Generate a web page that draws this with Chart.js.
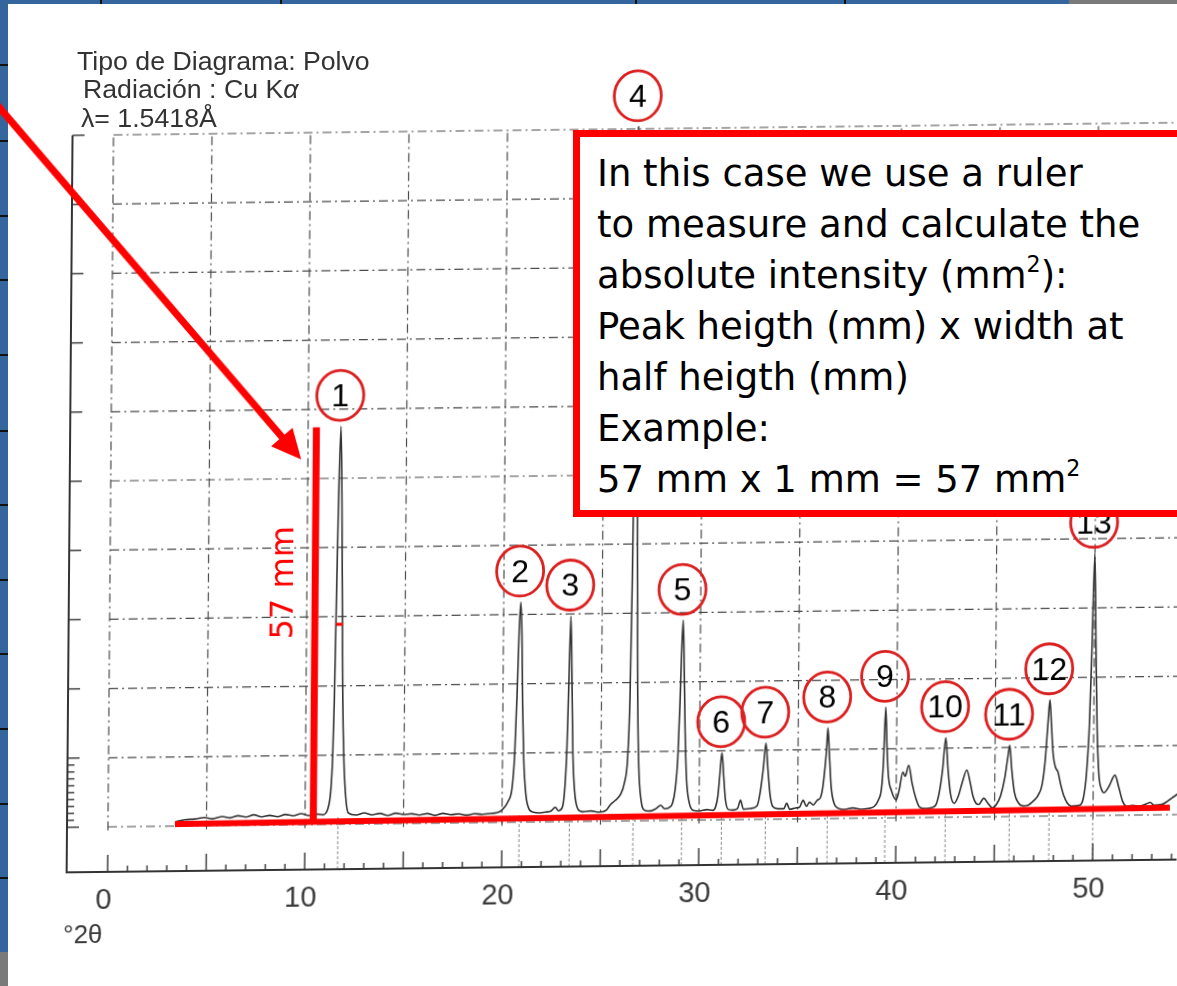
<!DOCTYPE html>
<html>
<head>
<meta charset="utf-8">
<title>Difractograma de polvo</title>
<script src="https://cdn.jsdelivr.net/npm/chart.js@4.4.0/dist/chart.umd.min.js"></script>
<style>
  html, body { margin: 0; padding: 0; }
  body { width: 1177px; height: 986px; overflow: hidden; background: #fff; position: relative;
         font-family: "Liberation Sans", Arial, sans-serif; }
  .slide { position: absolute; background: #34659c; }
  .cut { position: absolute; background: #111; }
  .grey { position: absolute; background: #7a7a7a; }
  #plot { position: absolute; left: -20px; top: -20px;
          transform-origin: 120px 847px; transform: matrix(1, -0.0115, -0.008, 1, 0, 0); }
  .head { position: absolute; font-size: 26.7px; line-height: 27px;
          color: #333; white-space: nowrap; }
  #note { position: absolute; left: 573px; top: 130px; width: 700px; height: 387px; box-sizing: border-box;
          border: 7px solid #ff0000; background: #fff; padding: 11px 0 0 17px;
          font-family: "DejaVu Sans", sans-serif; font-size: 37px; line-height: 51px; color: #000; white-space: nowrap; }
  #note sup { font-size: 0.6em; line-height: 0; vertical-align: 0.7em; }
</style>
</head>
<body>
<div class="slide" style="left:0;top:0;width:1177px;height:4px"></div>
<div class="slide" style="left:0;top:0;width:8px;height:986px"></div>
<div class="cut" style="left:100px;top:0;width:2px;height:4px"></div>
<div class="cut" style="left:280px;top:0;width:2px;height:4px"></div>
<div class="cut" style="left:635px;top:0;width:2px;height:4px"></div>
<div class="cut" style="left:844px;top:0;width:2px;height:4px"></div>
<div class="grey" style="left:1069px;top:0;width:108px;height:4px"></div>
<div class="cut" style="left:0;top:64px;width:8px;height:2px"></div>
<div class="cut" style="left:0;top:140px;width:8px;height:2px"></div>
<div class="cut" style="left:0;top:215px;width:8px;height:2px"></div>
<div class="cut" style="left:0;top:279px;width:8px;height:2px"></div>
<div class="cut" style="left:0;top:354px;width:8px;height:2px"></div>
<div class="cut" style="left:0;top:430px;width:8px;height:2px"></div>
<div class="cut" style="left:0;top:504px;width:8px;height:2px"></div>
<div class="cut" style="left:0;top:579px;width:8px;height:2px"></div>
<div class="cut" style="left:0;top:653px;width:8px;height:2px"></div>
<div class="cut" style="left:0;top:728px;width:8px;height:2px"></div>
<div class="cut" style="left:0;top:803px;width:8px;height:2px"></div>
<div class="cut" style="left:0;top:877px;width:8px;height:2px"></div>
<div class="grey" style="left:0;top:952px;width:8px;height:34px"></div>

<canvas id="plot" width="1240" height="1030"></canvas>

<div class="head" style="left:77px;top:48px">Tipo de Diagrama: Polvo</div>
<div class="head" style="left:83px;top:76px">Radiación : Cu K<i>α</i></div>
<div class="head" style="left:81px;top:105px">λ= 1.5418Å</div>

<div id="note">In this case we use a ruler<br>to measure and calculate the<br>absolute intensity (mm<sup>2</sup>):<br>Peak heigth (mm) x width at<br>half heigth (mm)<br>Example:<br>57 mm x 1 mm = 57 mm<sup>2</sup></div>

<script>
// recorded scan: [2θ in degrees, intensity in chart divisions] (1 division = 10 mm of paper)
const scan = [
  [3.4,0.06],[3.9,0.09],[4.4,0.10],[4.9,0.12],[5.3,0.10],[5.8,0.13],[6.2,0.11],[6.6,0.14],[7.0,0.12],[7.4,0.15],
  [7.8,0.12],[8.2,0.14],[8.6,0.12],[9.0,0.15],[9.4,0.13],[9.8,0.16],[10.2,0.13],[10.6,0.15],[10.9,0.14],
  [11.15,0.22],[11.3,0.5],[11.38,1.0],[11.44,1.8],[11.49,2.9],[11.57,4.6],[11.67,5.75],[11.75,4.6],[11.82,2.9],
  [11.87,1.8],[11.94,1.0],[12.04,0.45],[12.2,0.16],
  [12.6,0.13],[13.0,0.16],[13.4,0.13],[13.8,0.15],[14.2,0.12],[14.6,0.15],[15.0,0.13],[15.4,0.14],[15.8,0.12],
  [16.2,0.14],[16.6,0.11],[17.0,0.14],[17.4,0.12],[17.8,0.13],[18.2,0.11],[18.6,0.13],[19.0,0.12],[19.4,0.13],[19.75,0.14],
  [20.0,0.18],[20.3,0.3],[20.5,0.5],[20.62,1.0],[20.72,1.9],[20.8,2.8],[20.87,3.18],[20.94,2.7],[21.0,1.7],
  [21.08,0.9],[21.2,0.4],[21.35,0.2],[21.6,0.14],
  [21.9,0.13],[22.2,0.14],[22.5,0.16],[22.7,0.21],[22.85,0.16],
  [23.05,0.2],[23.18,0.5],[23.27,1.1],[23.34,2.0],[23.42,2.97],[23.5,2.0],[23.57,1.0],[23.67,0.45],[23.85,0.18],[24.1,0.14],
  [24.5,0.15],[24.9,0.13],[25.3,0.16],[25.5,0.24],[25.75,0.3],[26.0,0.38],[26.2,0.55],[26.35,0.9],[26.45,1.8],
  [26.52,3.5],[26.58,6.0],[26.65,10.03],[26.72,6.0],[26.78,3.5],[26.84,1.8],[26.92,0.8],[27.05,0.3],[27.25,0.15],
  [27.5,0.14],[27.8,0.17],[28.05,0.22],[28.25,0.17],[28.5,0.19],
  [28.65,0.25],[28.78,0.45],[28.9,0.9],[28.99,1.7],[29.05,2.4],[29.12,2.89],[29.19,2.2],[29.26,1.3],[29.35,0.6],
  [29.5,0.25],[29.7,0.14],
  [30.0,0.13],[30.4,0.15],[30.7,0.14],
  [30.85,0.2],[30.95,0.35],[31.04,0.65],[31.14,0.97],[31.24,0.62],[31.33,0.3],[31.48,0.15],[31.7,0.14],
  [31.95,0.16],[32.1,0.28],[32.25,0.15],[32.6,0.16],
  [32.95,0.2],[33.1,0.4],[33.25,0.75],[33.37,1.10],[33.48,0.72],[33.6,0.35],[33.75,0.18],[34.0,0.15],
  [34.3,0.15],[34.45,0.23],[34.6,0.14],[34.9,0.16],
  [35.1,0.17],[35.28,0.27],[35.45,0.18],[35.6,0.24],[35.8,0.2],[36.0,0.27],[36.15,0.3],[36.27,0.45],[36.38,0.75],
  [36.45,1.0],[36.51,1.31],[36.6,0.9],[36.7,0.45],[36.85,0.22],[37.05,0.15],[37.4,0.13],[37.8,0.15],[38.2,0.13],[38.6,0.14],
  [38.9,0.17],[39.1,0.26],[39.25,0.42],[39.34,0.8],[39.44,1.60],[39.52,1.0],[39.6,0.6],[39.75,0.4],[40.0,0.26],
  [40.15,0.4],[40.33,0.66],[40.45,0.6],[40.63,0.76],[40.8,0.5],[41.0,0.28],[41.2,0.15],[41.5,0.13],[41.8,0.14],
  [42.05,0.2],[42.2,0.38],[42.35,0.7],[42.5,1.15],[42.62,0.7],[42.75,0.35],[42.95,0.2],[43.15,0.3],[43.35,0.5],
  [43.58,0.68],[43.75,0.5],[43.9,0.3],[44.05,0.2],[44.2,0.18],[44.45,0.27],[44.65,0.2],[44.9,0.13],
  [45.1,0.18],[45.3,0.3],[45.5,0.55],[45.65,0.85],[45.75,1.03],[45.85,0.7],[46.0,0.35],[46.2,0.2],[46.45,0.15],
  [46.7,0.16],[47.0,0.23],[47.2,0.3],
  [47.4,0.45],[47.55,0.8],[47.68,1.35],[47.77,1.68],[47.86,1.3],[47.95,0.9],[48.08,0.7],[48.2,0.64],[48.35,0.45],
  [48.5,0.3],[48.7,0.18],[48.9,0.14],
  [49.3,0.15],[49.5,0.25],[49.65,0.6],[49.78,1.3],[49.88,2.4],[49.99,3.79],[50.08,2.5],[50.17,1.3],[50.28,0.6],
  [50.42,0.38],[50.55,0.33],[50.8,0.42],[51.1,0.58],[51.3,0.4],[51.5,0.2],[51.7,0.13],[52.0,0.14],[52.4,0.13],
  [52.7,0.16],[52.9,0.18],[53.1,0.14],[53.5,0.15],[53.8,0.2],[54.1,0.26],[54.3,0.3]
];

// numbered reflections
const peakNumbers = ['1','2','3','4','5','6','7','8','9','10','11','12','13'];
const peakTwoTheta = [11.67, 20.87, 23.42, 26.65, 29.12, 31.14, 33.37, 36.51, 39.44, 42.5, 45.75, 47.77, 49.99];
const peakHeight = [5.75, 3.18, 2.97, 10.03, 2.89, 0.97, 1.10, 1.31, 1.60, 1.15, 1.03, 1.68, 3.79];

// 2θ axis labels
const xTicks = [0, 10, 20, 30, 40, 50];
const xTickLabels = ['0', '10', '20', '30', '40', '50'];

// hand measurement on peak 1
const rulerTwoTheta = 10.42;
const peakHeightMm = 57;
const halfWidthMm = 1;
const mmPerDivision = 10;
const baselineFrom = [3.4, 0.03];
const baselineTo = [53.9, 0.10];

const red = '#ff0000';

function seg(ctx, x1, y1, x2, y2) {
  ctx.beginPath();
  ctx.moveTo(x1, y1);
  ctx.lineTo(x2, y2);
  ctx.stroke();
}

// chart paper: dash-dot grid, axes, ticks, peak markers
const paper = {
  id: 'paper',
  beforeDatasetsDraw(chart) {
    const { ctx, chartArea: a, scales: { x, y } } = chart;
    ctx.save();

    ctx.strokeStyle = '#4a4a4a';
    ctx.lineWidth = 1.2;
    ctx.setLineDash([9, 4, 2, 4]);
    for (let v = 0; v <= 10; v++) {
      seg(ctx, x.getPixelForValue(0), y.getPixelForValue(v), a.right, y.getPixelForValue(v));
    }
    for (let t = 0; t <= 50; t += 5) {
      seg(ctx, x.getPixelForValue(t), y.getPixelForValue(-0.05), x.getPixelForValue(t), y.getPixelForValue(10));
    }

    // reflection markers under the peaks
    ctx.strokeStyle = '#8a8a8a';
    ctx.lineWidth = 1;
    ctx.setLineDash([3, 2]);
    peakTwoTheta.forEach(t => {
      seg(ctx, x.getPixelForValue(t), a.bottom, x.getPixelForValue(t), y.getPixelForValue(0.1));
    });
    ctx.setLineDash([]);

    // axes
    ctx.strokeStyle = '#333';
    ctx.lineWidth = 2;
    seg(ctx, a.left, y.getPixelForValue(10), a.left, a.bottom + 1);
    seg(ctx, a.left, a.bottom, a.right, a.bottom);

    ctx.lineWidth = 1.4;
    for (let v = 0; v <= 10; v++) {
      seg(ctx, a.left, y.getPixelForValue(v), a.left + 12, y.getPixelForValue(v));
    }
    for (let v = 0.1; v < 0.95; v += 0.1) {
      seg(ctx, a.left, y.getPixelForValue(v), a.left + 7, y.getPixelForValue(v));
    }
    for (let t = 0; t <= 54; t++) {
      const len = t % 5 === 0 ? 17 : 6;
      seg(ctx, x.getPixelForValue(t), a.bottom, x.getPixelForValue(t), a.bottom - len);
    }

    ctx.fillStyle = '#3a3a3a';
    ctx.font = '29px "Liberation Sans", Arial, sans-serif';
    ctx.textAlign = 'center';
    ctx.textBaseline = 'alphabetic';
    xTicks.forEach((t, i) => {
      ctx.fillText(xTickLabels[i], x.getPixelForValue(t) - 4, a.bottom + 37);
    });
    ctx.font = '26px "Liberation Sans", Arial, sans-serif';
    ctx.textAlign = 'left';
    ctx.fillText('°2θ', x.getPixelForValue(0) - 44, a.bottom + 71);

    ctx.restore();
  }
};

// red hand markup: baseline, ruler, half-height mark, numbered circles, arrow
const markup = {
  id: 'markup',
  afterDatasetsDraw(chart) {
    const { ctx, scales: { x, y } } = chart;
    ctx.save();
    ctx.strokeStyle = red;
    ctx.fillStyle = red;
    ctx.lineCap = 'butt';

    ctx.lineWidth = 6;
    seg(ctx, x.getPixelForValue(baselineFrom[0]), y.getPixelForValue(baselineFrom[1]),
             x.getPixelForValue(baselineTo[0]), y.getPixelForValue(baselineTo[1]));

    // ruler from the baseline up to the top of peak 1
    const k = (rulerTwoTheta - baselineFrom[0]) / (baselineTo[0] - baselineFrom[0]);
    const rulerBase = baselineFrom[1] + k * (baselineTo[1] - baselineFrom[1]);
    const rulerTop = rulerBase + peakHeightMm / mmPerDivision;
    const rx = x.getPixelForValue(rulerTwoTheta);
    ctx.lineWidth = 7;
    seg(ctx, rx, y.getPixelForValue(rulerBase), rx, y.getPixelForValue(rulerTop));

    // width at half height
    const pxPerMm = (y.getPixelForValue(0) - y.getPixelForValue(1)) / mmPerDivision;
    const px1 = x.getPixelForValue(peakTwoTheta[0]);
    const halfY = y.getPixelForValue(rulerBase + peakHeightMm / mmPerDivision / 2);
    ctx.lineWidth = 3;
    seg(ctx, px1 - pxPerMm * halfWidthMm / 2, halfY, px1 + pxPerMm * halfWidthMm / 2, halfY);

    // "57 mm"
    ctx.save();
    ctx.translate(rx - 31, y.getPixelForValue(3.5));
    ctx.rotate(-Math.PI / 2);
    ctx.font = '32px "DejaVu Sans", sans-serif';
    ctx.textAlign = 'center';
    ctx.textBaseline = 'middle';
    ctx.fillText(peakHeightMm + ' mm', 0, 0);
    ctx.restore();

    // arrow pointing at the ruler
    const tipX = rx - 15;
    const tipY = y.getPixelForValue(rulerTop) + 32;
    const dx = 300, dy = 350;
    const len = Math.hypot(dx, dy);
    const ux = dx / len, uy = dy / len;
    const head = 30;
    ctx.lineWidth = 7;
    seg(ctx, tipX - ux * 500, tipY - uy * 500, tipX - ux * (head - 4), tipY - uy * (head - 4));
    ctx.beginPath();
    ctx.moveTo(tipX, tipY);
    ctx.lineTo(tipX - ux * head - uy * 14, tipY - uy * head + ux * 14);
    ctx.lineTo(tipX - ux * head + uy * 14, tipY - uy * head - ux * 14);
    ctx.closePath();
    ctx.fill();

    // numbered circles above each reflection
    ctx.strokeStyle = '#dc1f1f';
    ctx.lineWidth = 2.8;
    ctx.fillStyle = '#000';
    ctx.font = '32px "Liberation Sans", Arial, sans-serif';
    ctx.textAlign = 'center';
    ctx.textBaseline = 'middle';
    peakTwoTheta.forEach((t, i) => {
      const cx = x.getPixelForValue(t) - 1;
      const cy = y.getPixelForValue(peakHeight[i]) - 31;
      ctx.beginPath();
      ctx.ellipse(cx, cy, 23.5, 25, 0, 0, Math.PI * 2);
      ctx.stroke();
      ctx.fillText(peakNumbers[i], cx, cy + 2);
    });

    ctx.restore();
  }
};

new Chart(document.getElementById('plot'), {
  type: 'scatter',
  data: {
    datasets: [{
      data: scan.map(p => ({ x: p[0], y: p[1] })),
      showLine: true,
      borderColor: '#333',
      borderWidth: 1.6,
      pointRadius: 0,
      cubicInterpolationMode: 'monotone',
      clip: false
    }]
  },
  options: {
    responsive: false,
    animation: false,
    devicePixelRatio: 1,
    layout: { padding: { left: 87, top: 155, right: 43, bottom: 138 } },
    plugins: { legend: { display: false }, tooltip: { enabled: false } },
    scales: {
      x: { type: 'linear', min: -2.08, max: 54.26, display: false },
      y: { min: -0.65, max: 10, display: false }
    }
  },
  plugins: [paper, markup]
});
</script>
</body>
</html>
